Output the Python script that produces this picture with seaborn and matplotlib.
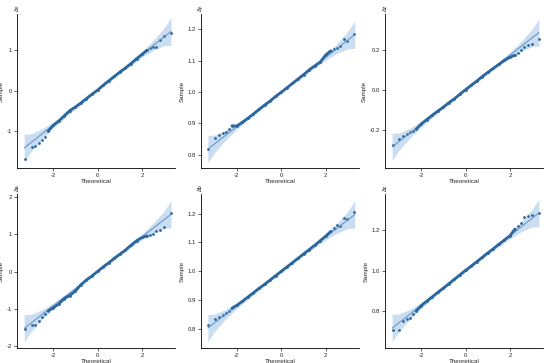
import numpy as np
import pandas as pd
import matplotlib
matplotlib.use("Agg")
import matplotlib.pyplot as plt
import seaborn as sns

# theoretical quantiles shared by all panels (tails sparse, middle coarse)
theoretical = [-3.28, -2.97, -2.8, -2.64, -2.5, -2.36, -2.22,
               -2.0, -1.75, -1.5, -1.25, -1.0, -0.75, -0.5, -0.25, 0.0,
               0.25, 0.5, 0.75, 1.0, 1.25, 1.5, 1.75, 2.0,
               2.22, 2.36, 2.5, 2.64, 2.8, 2.97, 3.28]

sample_1 = [-1.71, -1.41, -1.38, -1.31, -1.24, -1.15, -1.01,
            -0.87, -0.76, -0.63, -0.50, -0.41, -0.31, -0.20, -0.09, 0.01,
            0.13, 0.24, 0.35, 0.46, 0.56, 0.67, 0.79, 0.90,
            1.00, 1.07, 1.08, 1.08, 1.25, 1.36, 1.43]
sample_2 = [0.818, 0.852, 0.863, 0.868, 0.872, 0.882, 0.892,
            0.891, 0.903, 0.916, 0.930, 0.944, 0.958, 0.971, 0.986, 0.999,
            1.013, 1.027, 1.041, 1.055, 1.070, 1.083, 1.095, 1.118,
            1.131, 1.138, 1.140, 1.145, 1.168, 1.163, 1.186]
sample_3 = [-0.278, -0.246, -0.233, -0.221, -0.212, -0.207, -0.198,
            -0.172, -0.150, -0.128, -0.107, -0.087, -0.065, -0.045, -0.022, 0.000,
            0.022, 0.043, 0.066, 0.087, 0.107, 0.127, 0.147, 0.163,
            0.172, 0.184, 0.200, 0.214, 0.226, 0.231, 0.253]
sample_4 = [-1.53, -1.44, -1.42, -1.32, -1.21, -1.13, -1.05,
            -0.97, -0.87, -0.72, -0.64, -0.52, -0.35, -0.22, -0.11, 0.01,
            0.13, 0.24, 0.36, 0.47, 0.58, 0.71, 0.83, 0.92,
            0.96, 0.98, 1.00, 1.10, 1.11, 1.21, 1.58]
sample_5 = [0.814, 0.835, 0.843, 0.848, 0.855, 0.862, 0.872,
            0.882, 0.896, 0.911, 0.926, 0.941, 0.955, 0.970, 0.985, 1.000,
            1.015, 1.030, 1.045, 1.060, 1.075, 1.090, 1.106, 1.122,
            1.138, 1.150, 1.159, 1.158, 1.185, 1.182, 1.206]
sample_6 = [0.705, 0.705, 0.752, 0.763, 0.767, 0.785, 0.800,
            0.826, 0.848, 0.870, 0.892, 0.913, 0.935, 0.957, 0.979, 1.001,
            1.022, 1.043, 1.065, 1.087, 1.108, 1.130, 1.151, 1.172,
            1.205, 1.222, 1.233, 1.262, 1.267, 1.272, 1.283]

# reference line per panel
intercepts = [0.02, 1.0, 0.0, 0.01, 1.0, 1.0]
slopes = [0.44, 0.0553, 0.0867, 0.464, 0.0595, 0.0863]

# confidence band half width (in units of slope) read at these quantiles
band_x = [-3.3, -3.0, -2.5, -2.0, -1.5, -1.0, -0.5, 0.0, 0.5, 1.0, 1.5, 2.0, 2.5, 3.0, 3.3]
band_half = [0.79, 0.51, 0.28, 0.17, 0.12, 0.094, 0.081, 0.078, 0.081, 0.094, 0.12, 0.17, 0.28, 0.51, 0.79]

panel_names = ["Δx", "Δy", "Δz", "Δa", "Δb", "Δc"]
samples = [sample_1, sample_2, sample_3, sample_4, sample_5, sample_6]
yticks = [[-1, 0, 1], [0.8, 0.9, 1.0, 1.1, 1.2], [-0.2, 0.0, 0.2],
          [-2, -1, 0, 1, 2], [0.8, 0.9, 1.0, 1.1, 1.2], [0.8, 1.0, 1.2]]
ytick_labels = [["-1", "0", "1"], ["0.8", "0.9", "1.0", "1.1", "1.2"], ["-0.2", "0.0", "0.2"],
                ["-2", "-1", "0", "1", "2"], ["0.8", "0.9", "1.0", "1.1", "1.2"], ["0.8", "1.0", "1.2"]]
ylims = [(-1.93, 1.9), (0.757, 1.248), (-0.392, 0.378),
         (-2.05, 2.08), (0.734, 1.267), (0.617, 1.377)]

sns.set_style("ticks")
plt.rcParams['font.family'] = ['Liberation Sans', 'DejaVu Sans']

fig = plt.figure(figsize=(5.5, 3.63), dpi=100)
lefts = [0.031, 0.365, 0.70]
bottoms = [0.537, 0.041]
w, h = 0.288, 0.424

point_color = "#2B669E"
band_color = "#C2D8EE"

for i in range(6):
    r, c = divmod(i, 3)
    ax = fig.add_axes([lefts[c], bottoms[r], w, h])
    df = pd.DataFrame({'theo': theoretical, 'sample': samples[i]})
    bx = np.array(band_x)
    line_y = intercepts[i] + slopes[i] * bx
    half = slopes[i] * np.array(band_half)
    ax.fill_between(bx, line_y - half, line_y + half, color=band_color, alpha=0.85, lw=0)
    sns.lineplot(x=bx, y=line_y, ax=ax, color="#5B8FC4", lw=0.7)
    mid = df[(df['theo'] >= -2.3) & (df['theo'] <= 2.3)]
    sns.lineplot(data=mid, x='theo', y='sample', ax=ax, color=point_color, lw=2.0, sort=True)
    sns.scatterplot(data=df, x='theo', y='sample', ax=ax, color=point_color, s=4, linewidth=0)
    ax.set_xlim(-3.62, 3.5)
    ax.set_ylim(*ylims[i])
    ax.set_xticks([-2, 0, 2])
    ax.set_xticklabels(["-2", "0", "2"])
    ax.set_yticks(yticks[i])
    ax.set_yticklabels(ytick_labels[i])
    ax.tick_params(labelsize=4.3, length=2, width=0.5, pad=1.5)
    ax.set_xlabel("Theoretical", fontsize=4.5, labelpad=1)
    ax.set_ylabel("Sample", fontsize=4.5, labelpad=2)
    for s in ['left', 'bottom']:
        ax.spines[s].set_linewidth(0.6)
        ax.spines[s].set_color('black')
    sns.despine(ax=ax)
    ax.text(0.0, 1.02, panel_names[i], transform=ax.transAxes, rotation=90,
            fontsize=4, ha='center', va='bottom')

fig.savefig("out.png", dpi=100)
